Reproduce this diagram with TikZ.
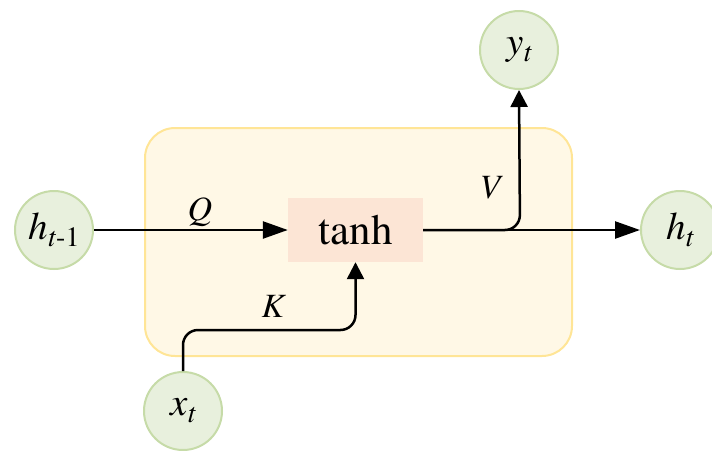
\documentclass[tikz,border=0pt]{standalone}
\usepackage{fontspec}
\setmainfont{texgyretermes}[Extension=.otf, UprightFont=*-regular, ItalicFont=*-italic, BoldFont=*-bold]
\usetikzlibrary{arrows.meta}
\definecolor{cellfill}{RGB}{255,248,230}
\definecolor{celldraw}{RGB}{255,229,150}
\definecolor{varfill}{RGB}{232,240,221}
\definecolor{vardraw}{RGB}{198,219,168}
\definecolor{tanhfill}{RGB}{252,229,213}
\newcommand\myvar[2]{\textit{#1}\raisebox{-7pt}{\fontsize{28}{28}\selectfont #2}}
\tikzset{
  varnode/.style={circle, fill=varfill, draw=vardraw, line width=2pt, minimum size=78pt, inner sep=0pt, font=\fontsize{39}{39}\selectfont},
  cellbox/.style={fill=cellfill, draw=celldraw, line width=2pt, rounded corners=30pt},
  tanhbox/.style={fill=tanhfill, draw=none, minimum width=135pt, minimum height=64pt, inner sep=0pt, font=\fontsize{43}{43}\selectfont},
  conn/.style={line width=2.5pt, rounded corners=15pt},
  longtip/.style={-{Triangle[length=25pt,width=17pt]}},
  shorttip/.style={-{Triangle[length=17pt,width=17pt]}},
  lbl/.style={font=\fontsize{34}{34}\selectfont\itshape, inner sep=0pt}
}
\begin{document}
\begin{tikzpicture}[x=1pt,y=-1pt]
\useasboundingbox (0,0) rectangle (712,450);
\clip (0,0) rectangle (712,450);
\draw[cellbox] (145,128) rectangle (572,356);
\node[tanhbox] (tanh) at (355.5,230) {tanh};
\node[varnode] (hprev) at (54,230) {\myvar{h}{\textit{t}-1}};
\node[varnode] (ht) at (680,230) {\myvar{h}{\textit{t}}};
\node[varnode] (yt) at (519,50) {\myvar{y}{\textit{t}}};
\node[varnode] (xt) at (183,411) {\myvar{x}{\textit{t}}};
\coordinate (kturn) at (183,330);
\coordinate (vturn) at (520,230);
\draw[conn,longtip] (hprev.east) -- (tanh.west);
\draw[conn,shorttip] (xt.north) -- (kturn) -- (kturn -| tanh.south) -- (tanh.south);
\draw[conn,longtip] (tanh.east) -- (ht.west);
\draw[conn,shorttip] (tanh.east) -- (vturn) -- (yt.south);
\node[lbl] (q) at (200,212) {Q};
\node[lbl] (k) at (273,306) {K};
\node[lbl] (v) at (490,188) {V};
\end{tikzpicture}
\end{document}
